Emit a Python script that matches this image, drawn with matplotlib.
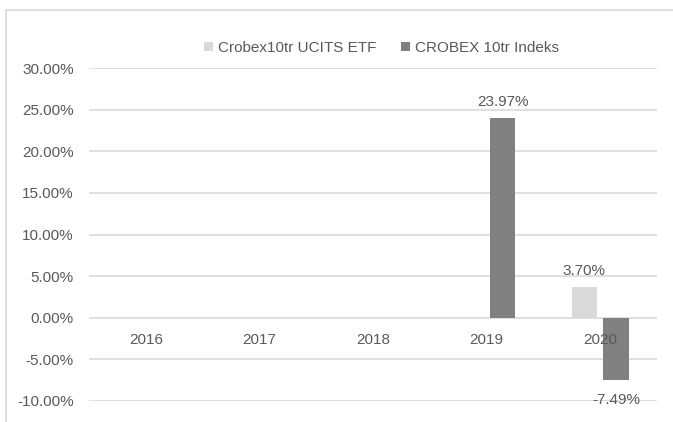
import numpy as np
import matplotlib.pyplot as plt
from matplotlib.lines import Line2D

years = ["2016", "2017", "2018", "2019", "2020"]
etf = [np.nan, np.nan, np.nan, np.nan, 3.70]
index = [np.nan, np.nan, np.nan, 23.97, -7.49]
series_names = ["Crobex10tr UCITS ETF", "CROBEX 10tr Indeks"]
yticks = [-10, -5, 0, 5, 10, 15, 20, 25, 30]

plt.rcParams['font.family'] = ['Liberation Sans', 'DejaVu Sans']
text_col = '#595959'
grid_col = '#d9d9d9'

W, H = 673, 422
fig = plt.figure(figsize=(W / 100, H / 100), dpi=100)
ax = fig.add_axes([89 / W, 1 - 401 / H, 568 / W, 333 / H])

# chart border (only top and left visible in the crop)
fig.add_artist(Line2D([6 / W, 6 / W], [0, 1 - 10 / H], color=grid_col, lw=1.2))
fig.add_artist(Line2D([6 / W, 1], [1 - 10 / H, 1 - 10 / H], color=grid_col, lw=1.2))

x = np.arange(len(years))
w = 0.225
off = 0.14
ax.bar(x - off, etf, w, color='#d9d9d9', label=series_names[0], zorder=3)
ax.bar(x + off, index, w, color='#808080', label=series_names[1], zorder=3)

def label(xp, v):
    dy = 16 if v >= 0 else -20
    ax.annotate(f"{v:.2f}%", (xp, v), xytext=(0, dy * 0.72), textcoords='offset points',
                ha='center', va='center', fontsize=11, color=text_col)

for xi, v in zip(x, etf):
    if not np.isnan(v):
        label(xi - off, v)
for xi, v in zip(x, index):
    if not np.isnan(v):
        label(xi + off, v)

ax.set_xlim(-0.5, len(years) - 0.5)
ax.set_ylim(-10, 30)
ax.set_yticks(yticks)
ax.set_yticklabels([f"{t:.2f}%" for t in yticks])
ax.grid(axis='y', color=grid_col, lw=1.2, zorder=0)
for s in ax.spines.values():
    s.set_visible(False)
ax.tick_params(axis='y', length=0, pad=11, labelsize=11, labelcolor=text_col)

# category labels sit just under the zero line
ax.set_xticks([])
for xi, yr in zip(x, years):
    ax.annotate(yr, (xi, 0), xytext=(0, -22 * 0.72), textcoords='offset points',
                ha='center', va='center', fontsize=11, color=text_col)

ax.legend(loc='center', bbox_to_anchor=(381.5 / W, 1 - 48 / H),
          bbox_transform=fig.transFigure, ncol=2, frameon=False,
          fontsize=11, labelcolor=text_col, handlelength=0.6, handleheight=0.6,
          handletextpad=0.35, columnspacing=1.6)

fig.savefig("out.png", dpi=100)
